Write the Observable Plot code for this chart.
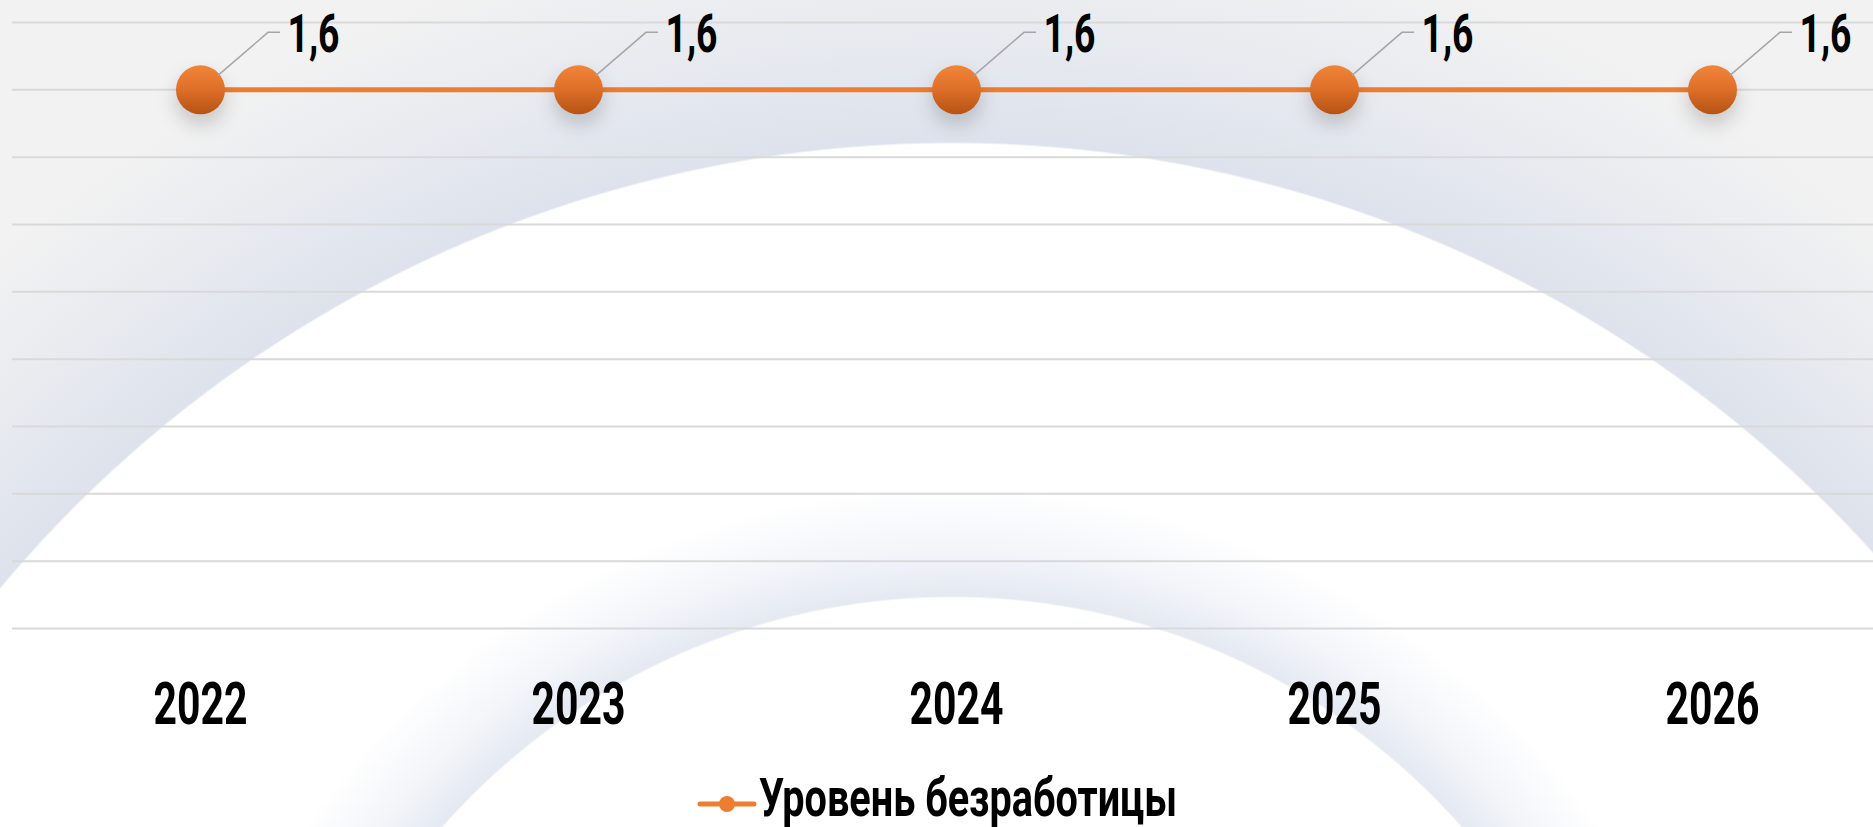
<!DOCTYPE html>
<html>
<head>
<meta charset="utf-8">
<script src="https://cdn.jsdelivr.net/npm/d3@7"></script>
<script src="https://cdn.jsdelivr.net/npm/@observablehq/plot@0.6"></script>
<style>
  html, body { margin: 0; padding: 0; }
  #wrap {
    position: relative; width: 1873px; height: 827px; overflow: hidden;
    font-family: Roboto, "Liberation Sans", sans-serif;
    background:
      radial-gradient(circle 790px at 952px 1277px, #ffffff 679px, #e4e9f2 681px, rgba(236,239,246,0.6) 730px, rgba(255,255,255,0) 790px),
      radial-gradient(circle 1480px at 952px 1383px, #ffffff 1239px, #dde2ec 1241px, rgba(226,230,238,0.7) 1340px, rgba(242,242,242,0) 1480px),
      #f2f2f2;
  }
  #chart { position: absolute; left: 0; top: 0; }
  #legend {
    position: absolute; left: 0; width: 1873px; top: 777px; height: 54px;
    display: flex; justify-content: center; align-items: center;
    font-weight: bold; color: #000; line-height: 54px;
  }
  #legend span { display: inline-block; }
</style>
</head>
<body>
<div id="wrap">
  <div id="chart"></div>
  <div id="legend"></div>
</div>
<script>
const years = ["2022", "2023", "2024", "2025", "2026"];
const unemployment = [1.6, 1.6, 1.6, 1.6, 1.6];
const gridTicks = [0, 0.2, 0.4, 0.6, 0.8, 1.0, 1.2, 1.4, 1.6, 1.8];
const seriesName = "Уровень безработицы";

const data = years.map((y, i) => ({year: y, value: unemployment[i]}));
const orange = "#ed7d31";
const FONT = 'Roboto, "Liberation Sans", sans-serif';

// condensed look: measure text and compute horizontal squeeze
const ctx = document.createElement("canvas").getContext("2d");
function textWidth(text, size) { ctx.font = `bold ${size}px ${FONT}`; return ctx.measureText(text).width; }
const yearSize = 59, labelSize = 53, legendSize = 53;
const yearSx = Math.min(1, 94 / textWidth("2022", yearSize));
const labelSx = Math.min(1, 52 / textWidth("1,6", labelSize));
const legendSx = Math.min(1, 418 / textWidth(seriesName, legendSize));

const chart = Plot.plot({
  width: 1873,
  height: 760,
  marginTop: 22,
  marginBottom: 132,
  marginLeft: 12,
  marginRight: 0,
  style: {background: "transparent", overflow: "visible", fontFamily: FONT},
  x: {type: "point", domain: years, range: [199, 1712], padding: 0, axis: null},
  y: {domain: [0, 1.8], axis: null},
  marks: [
    Plot.ruleY(gridTicks, {stroke: "#d9d9d9", strokeWidth: 2}),
    Plot.line(data, {x: "year", y: "value", stroke: orange, strokeWidth: 5}),
    Plot.dot(data, {x: "year", y: "value", r: 26, fill: "#000", fillOpacity: 0.16, dy: 10, ariaDescription: "shadow"}),
    Plot.dot(data, {x: "year", y: "value", r: 24.5, fill: orange, ariaDescription: "bubble"}),
    Plot.text(data, {x: "year", y: "value", text: d => d.value.toFixed(1).replace(".", ","),
      dx: 87, dy: -55, textAnchor: "start", fontSize: labelSize, fontWeight: "bold", fill: "#000", ariaDescription: "values"}),
    Plot.text(years, {x: d => d, y: () => 0, text: d => d, dy: 77,
      fontSize: yearSize, fontWeight: "bold", fill: "#000", ariaDescription: "years"})
  ]
});

document.getElementById("chart").appendChild(chart);

const svg = d3.select(chart);
const dotGroups = svg.selectAll('g[aria-label="dot"]').nodes();
const textGroups = svg.selectAll('g[aria-label="text"]').nodes();
const pick = (desc, groups, i) => {
  const g = svg.select(`g[aria-description="${desc}"]`);
  return g.empty() ? d3.select(groups[i]) : g;
};
const shadowG = pick("shadow", dotGroups, 0);
const bubbleG = pick("bubble", dotGroups, 1);
const valuesG = pick("values", textGroups, 0);
const yearsG = pick("years", textGroups, 1);

// squeeze text horizontally around its anchor
function squeeze(sel, sx) {
  sel.each(function() {
    const t = d3.select(this);
    const x = +t.attr("x") || 0;
    const tr = t.attr("transform") || "";
    t.attr("transform", `${tr} translate(${x},0) scale(${sx},1) translate(${-x},0)`);
  });
}
squeeze(valuesG.selectAll("text"), labelSx);
squeeze(yearsG.selectAll("text"), yearSx);

// gradient bubbles, blurred shadows
const defs = svg.insert("defs", ":first-child");
const grad = defs.append("linearGradient").attr("id", "bubbleGrad")
  .attr("x1", 0).attr("y1", 0).attr("x2", 0).attr("y2", 1);
grad.append("stop").attr("offset", "0%").attr("stop-color", "#f08538");
grad.append("stop").attr("offset", "45%").attr("stop-color", "#e0712a");
grad.append("stop").attr("offset", "100%").attr("stop-color", "#b65313");
const blur = defs.append("filter").attr("id", "shadowBlur")
  .attr("x", "-100%").attr("y", "-100%").attr("width", "300%").attr("height", "300%");
blur.append("feGaussianBlur").attr("stdDeviation", 9);
shadowG.selectAll("circle").attr("filter", "url(#shadowBlur)");
bubbleG.selectAll("circle").attr("fill", "url(#bubbleGrad)");

// leader lines from each bubble to its label
const xs = chart.scale("x"), ys = chart.scale("y");
const leaders = svg.append("g").attr("fill", "none").attr("stroke", "#a6a6a6").attr("stroke-width", 1.5);
data.forEach(d => {
  const px = xs.apply(d.year), py = ys.apply(d.value);
  leaders.append("path").attr("d", `M${px + 18},${py - 14}L${px + 68},${py - 57}L${px + 80},${py - 57}`);
});

// legend
const legend = d3.select("#legend");
const ls = legend.append("svg").attr("width", 60).attr("height", 20).style("margin-right", "2px");
ls.append("line").attr("x1", 3).attr("x2", 57).attr("y1", 10).attr("y2", 10)
  .attr("stroke", orange).attr("stroke-width", 5).attr("stroke-linecap", "round");
ls.append("circle").attr("cx", 30).attr("cy", 10).attr("r", 8).attr("fill", orange);
const lw = textWidth(seriesName, legendSize);
legend.append("div").style("width", `${lw * legendSx}px`).style("overflow", "visible")
  .append("span").style("font-size", `${legendSize}px`)
  .style("transform", `scaleX(${legendSx})`).style("transform-origin", "0 50%")
  .style("white-space", "nowrap").text(seriesName);
</script>
</body>
</html>
